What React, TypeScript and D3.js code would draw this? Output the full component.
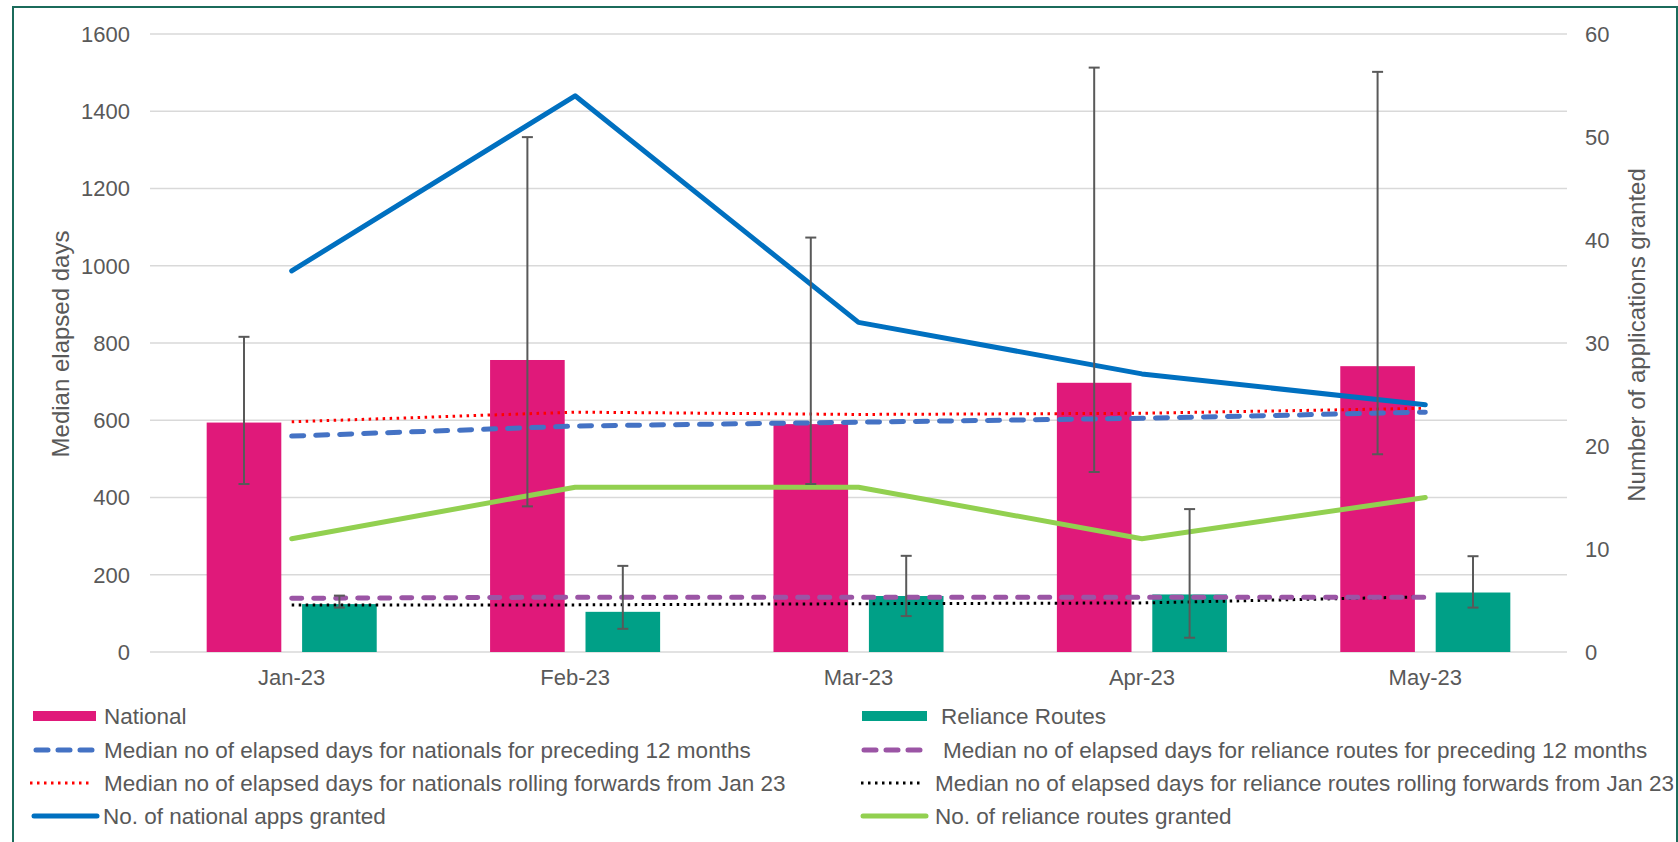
import React from "react";
import * as d3 from "d3";

const months = ["Jan-23", "Feb-23", "Mar-23", "Apr-23", "May-23"];
const nationalDays = [594, 756, 590, 697, 740];
const relianceDays = [124, 104, 145, 149, 154];
const nationalErrHigh = [816, 1333, 1073, 1513, 1502];
const nationalErrLow = [435, 377, 435, 466, 512];
const relianceErrHigh = [146, 223, 249, 370, 248];
const relianceErrLow = [115, 60, 93, 37, 115];
const nationalPrev12 = [559, 585, 595, 605, 621];
const nationalRolling = [596, 621, 615, 618, 631];
const reliancePrev12 = [139, 142, 142, 142, 142];
const relianceRolling = [122, 122, 125, 127, 143];
const nationalGranted = [37, 54, 32, 27, 24];
const relianceGranted = [11, 16, 16, 11, 15];
const leftTicks = [0, 200, 400, 600, 800, 1000, 1200, 1400, 1600];
const rightTicks = [0, 10, 20, 30, 40, 50, 60];

const C = {
  national: "#E0197A",
  reliance: "#00A087",
  natLine: "#0070C0",
  natPrev: "#4472C4",
  natRoll: "#FF0000",
  relPrev: "#9B55A5",
  relRoll: "#000000",
  relLine: "#92D050",
  err: "#595959",
  grid: "#D9D9D9",
  text: "#595959",
  frame: "#1B6B5B",
};

const FONT = "'Liberation Sans', Arial, sans-serif";

export default function App() {
  const W = 1678, H = 842;
  const left = 150, right = 1567, top = 34, bottom = 652;
  const x = d3.scaleBand<string>().domain(months).range([left, right]).padding(0);
  const bw = x.bandwidth();
  const inner = d3.scaleBand<string>().domain(["n", "r"]).range([-0.3 * bw, 0.3 * bw]).paddingInner(0.218);
  const y = d3.scaleLinear().domain([0, 1600]).range([bottom, top]);
  const y2 = d3.scaleLinear().domain([0, 60]).range([bottom, top]);
  const cx = (i: number) => (x(months[i]) as number) + bw / 2;

  const lineL = d3.line<number>().x((_, i) => cx(i)).y((d) => y(d));
  const lineR = d3.line<number>().x((_, i) => cx(i)).y((d) => y2(d));

  const series = [
    { data: relianceRolling, color: C.relRoll, w: 3, dash: "2.5 4.5", cap: "butt", scale: "L" },
    { data: reliancePrev12, color: C.relPrev, w: 5, dash: "10 12", cap: "round", scale: "L" },
    { data: nationalRolling, color: C.natRoll, w: 3, dash: "2.5 4.5", cap: "butt", scale: "L" },
    { data: nationalPrev12, color: C.natPrev, w: 5, dash: "12 12", cap: "round", scale: "L" },
    { data: relianceGranted, color: C.relLine, w: 5, dash: null, cap: "round", scale: "R" },
    { data: nationalGranted, color: C.natLine, w: 5, dash: null, cap: "round", scale: "R" },
  ];

  const errBar = (xc: number, lo: number, hi: number, key: string) => (
    <g key={key} stroke={C.err} strokeWidth={2}>
      <line x1={xc} x2={xc} y1={y(lo)} y2={y(hi)} />
      <line x1={xc - 5.5} x2={xc + 5.5} y1={y(lo)} y2={y(lo)} />
      <line x1={xc - 5.5} x2={xc + 5.5} y1={y(hi)} y2={y(hi)} />
    </g>
  );

  const legendRows = [
    [
      { label: "National", type: "rect", color: C.national, x0: 33, x1: 96, tx: 104 },
      { label: "Reliance Routes", type: "rect", color: C.reliance, x0: 862, x1: 927, tx: 941 },
    ],
    [
      { label: "Median no of elapsed days for nationals for preceding 12 months", type: "line", color: C.natPrev, w: 5, dash: "12 10", cap: "round", x0: 36, x1: 94, tx: 104 },
      { label: "Median no of elapsed days for reliance routes for preceding 12 months", type: "line", color: C.relPrev, w: 5, dash: "12 10", cap: "round", x0: 864, x1: 923, tx: 943 },
    ],
    [
      { label: "Median no of elapsed days for nationals rolling forwards from Jan 23", type: "line", color: C.natRoll, w: 3, dash: "2.5 4.5", cap: "butt", x0: 30, x1: 92, tx: 104 },
      { label: "Median no of elapsed days for reliance routes rolling forwards from Jan 23", type: "line", color: C.relRoll, w: 3, dash: "2.5 4.5", cap: "butt", x0: 861, x1: 923, tx: 935 },
    ],
    [
      { label: "No. of national apps granted", type: "line", color: C.natLine, w: 5, dash: null, cap: "round", x0: 34, x1: 97, tx: 103 },
      { label: "No. of reliance routes granted", type: "line", color: C.relLine, w: 5, dash: null, cap: "round", x0: 863, x1: 926, tx: 935 },
    ],
  ];
  const rowY = [716, 750, 783, 816];

  return (
    <svg width={W} height={H} style={{ position: "absolute", left: 0, top: 0, background: "#fff" }} fontFamily={FONT}>
      <rect x={0} y={0} width={W} height={H} fill="#fff" />
      <rect x={13} y={7} width={1664} height={850} fill="none" stroke={C.frame} strokeWidth={2} />

      {leftTicks.map((t) => (
        <line key={"g" + t} x1={left} x2={right} y1={y(t)} y2={y(t)} stroke={C.grid} strokeWidth={1.5} />
      ))}
      {leftTicks.map((t) => (
        <text key={"lt" + t} x={130} y={y(t)} dy="0.36em" textAnchor="end" fontSize={22} fill={C.text}>{t}</text>
      ))}
      {rightTicks.map((t) => (
        <text key={"rt" + t} x={1585} y={y2(t)} dy="0.36em" textAnchor="start" fontSize={22} fill={C.text}>{t}</text>
      ))}
      <text transform="translate(60,344) rotate(-90)" textAnchor="middle" dy="0.36em" fontSize={24} fill={C.text}>Median elapsed days</text>
      <text transform="translate(1636,335) rotate(-90)" textAnchor="middle" dy="0.36em" fontSize={24} fill={C.text}>Number of applications granted</text>

      {months.map((m, i) => (
        <text key={"x" + m} x={cx(i)} y={677} dy="0.36em" textAnchor="middle" fontSize={22} fill={C.text}>{m}</text>
      ))}

      {months.map((m, i) => (
        <g key={"b" + m}>
          <rect x={cx(i) + (inner("n") as number)} width={inner.bandwidth()} y={y(nationalDays[i])} height={bottom - y(nationalDays[i])} fill={C.national} />
          <rect x={cx(i) + (inner("r") as number)} width={inner.bandwidth()} y={y(relianceDays[i])} height={bottom - y(relianceDays[i])} fill={C.reliance} />
        </g>
      ))}

      {series.map((s, k) => (
        <path key={"s" + k} d={(s.scale === "L" ? lineL : lineR)(s.data) as string} fill="none" stroke={s.color} strokeWidth={s.w}
          strokeDasharray={s.dash || undefined} strokeLinecap={s.cap as any} strokeLinejoin="round" />
      ))}

      {months.map((m, i) => errBar(cx(i) + (inner("n") as number) + inner.bandwidth() / 2, nationalErrLow[i], nationalErrHigh[i], "en" + i))}
      {months.map((m, i) => errBar(cx(i) + (inner("r") as number) + inner.bandwidth() / 2, relianceErrLow[i], relianceErrHigh[i], "er" + i))}

      {legendRows.map((row, r) => row.map((it: any, c) => (
        <g key={"lg" + r + c}>
          {it.type === "rect" ? (
            <rect x={it.x0} y={rowY[r] - 5} width={it.x1 - it.x0} height={10} fill={it.color} />
          ) : (
            <line x1={it.x0} x2={it.x1} y1={rowY[r]} y2={rowY[r]} stroke={it.color} strokeWidth={it.w}
              strokeDasharray={it.dash || undefined} strokeLinecap={it.cap} />
          )}
          <text x={it.tx} y={rowY[r]} dy="0.36em" fontSize={22.5} fill={C.text}>{it.label}</text>
        </g>
      )))}
    </svg>
  );
}
